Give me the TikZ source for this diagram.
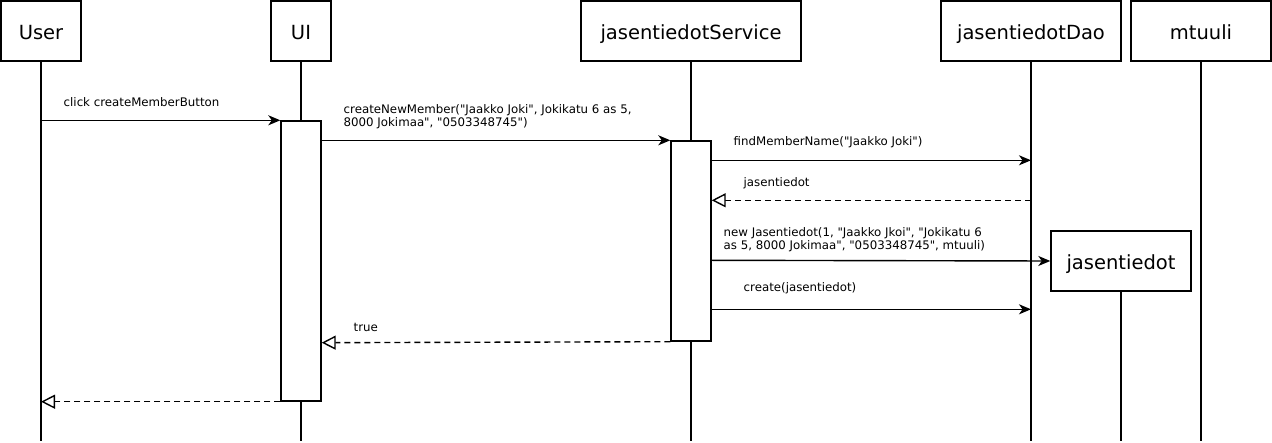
\documentclass[tikz,border=0pt]{standalone}
\usepackage{fontspec}
\setmainfont{DejaVu Sans}
\usetikzlibrary{arrows.meta}
% straight double quote, set as a glyph so no text mapping curls it
\newcommand\dq{\XeTeXglyph\XeTeXcharglyph"0022\relax}
\begin{document}
\begin{tikzpicture}[x=1pt,y=-1pt,
  line width=1.4pt,
  actor/.style={draw, line width=1.4pt, minimum height=60pt, inner sep=0pt,
    text height=18pt, text depth=0pt, font=\fontsize{19.5}{22}\selectfont},
  bar/.style={draw, line width=1.4pt, fill=white, minimum width=40pt, inner sep=0pt},
  lifeline/.style={line width=1.4pt},
  call/.style={-{Stealth[length=12pt,width=10pt,inset=3.5pt]}},
  reply/.style={dash pattern=on 6pt off 4pt,
    -{Triangle[open,length=14pt,width=14pt,fill=white]}},
  msg/.style={inner sep=0pt, anchor=west, align=left,
    font=\fontsize{11.8}{13.5}\selectfont}]
\useasboundingbox (0,0) rectangle (1272,443);

% participants
\node[actor, minimum width=80pt]  (user) at (41,31)   {User};
\node[actor, minimum width=60pt]  (ui)   at (301,31)  {UI};
\node[actor, minimum width=220pt] (srv)  at (691,31)  {jasentiedotService};
\node[actor, minimum width=180pt] (dao)  at (1031,31) {jasentiedotDao};
\node[actor, minimum width=140pt] (mt)   at (1201,31) {mtuuli};
\node[actor, minimum width=140pt] (jt)   at (1121,261) {jasentiedot};

% lifeline ends
\coordinate (userEnd) at (41,441);
\coordinate (uiEnd)   at (301,441);
\coordinate (srvEnd)  at (691,441);
\coordinate (daoEnd)  at (1031,441);
\coordinate (mtEnd)   at (1201,441);
\coordinate (jtEnd)   at (1121,441);

\draw[lifeline] (user.south) -- (userEnd);
\draw[lifeline] (ui.south)   -- (uiEnd);
\draw[lifeline] (srv.south)  -- (srvEnd);
\draw[lifeline] (dao.south)  -- (daoEnd);
\draw[lifeline] (mt.south)   -- (mtEnd);
\draw[lifeline] (jt.south)   -- (jtEnd);

% activation bars
\node[bar, minimum height=280pt] (uibar)  at (301,261) {};
\node[bar, minimum height=200pt] (srvbar) at (691,241) {};

% message anchors on the bars
\coordinate (s1) at ([yshift=-20pt]srvbar.north east);
\coordinate (s2) at ([yshift=-60pt]srvbar.north east);
\coordinate (s3) at ([yshift=-120pt]srvbar.north east);
\coordinate (s4) at ([yshift=-169pt]srvbar.north east);
\coordinate (u1) at ([yshift=-20pt]uibar.north east);
\coordinate (u2) at ([yshift=-1pt]uibar.east |- srvbar.south);

% messages
\draw[call]  (user |- uibar.north west) -- (uibar.north west);
\draw[call]  (u1) -- (srvbar.north west);
\draw[call]  (s1) -- (dao |- s1);
\draw[reply] (dao |- s2) -- (s2);
\draw[call]  (s3) -- (jt.west);
\draw[call]  (s4) -- (dao |- s4);
\draw[reply] (srvbar.south west) -- (u2);
\draw[reply] (uibar.south west) -- (user |- uibar.south west);

% message labels
\node[msg] (l1) at (63,102)    {click createMemberButton};
\node[msg] (l2) at (343,116.5) {createNewMember(\dq Jaakko Joki\dq, Jokikatu 6 as 5,\\8000 Jokimaa\dq, \dq 0503348745\dq)};
\node[msg] (l3) at (733,142)   {findMemberName(\dq Jaakko Joki\dq)};
\node[msg] (l4) at (743,183)   {jasentiedot};
\node[msg] (l5) at (723,239.5) {new Jasentiedot(1, \dq Jaakko Jkoi\dq, \dq Jokikatu 6\\as 5, 8000 Jokimaa\dq, \dq 0503348745\dq, mtuuli)};
\node[msg] (l6) at (743,288)   {create(jasentiedot)};
\node[msg] (l7) at (353,327)   {true};
\end{tikzpicture}
\end{document}
